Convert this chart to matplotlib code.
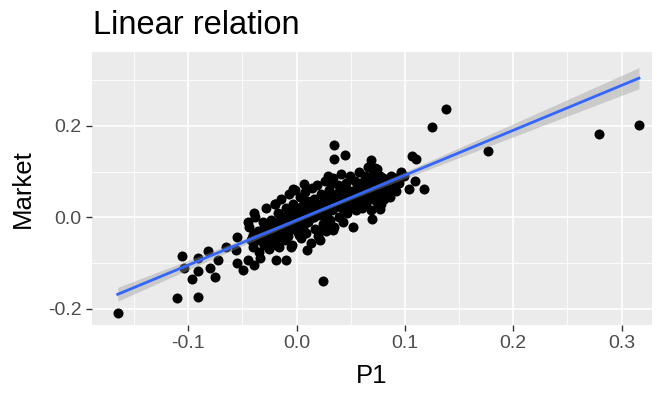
import numpy as np
import matplotlib
matplotlib.use("Agg")
import matplotlib.pyplot as plt

plt.rcParams['font.family'] = ['Liberation Sans', 'DejaVu Sans']

# ---- data ----
outer_x = [-0.165, -0.110, -0.091, -0.106, -0.104, -0.096, -0.091, -0.091, -0.080, -0.075,
           -0.082, -0.072, -0.065, -0.056, -0.055, -0.055, -0.049, -0.045, -0.039, -0.034,
           -0.045, -0.039, -0.019, -0.010, 0.024, 0.010, 0.022, 0.070, 0.077, 0.035,
           0.035, 0.045, 0.069, 0.072, 0.107, 0.110, 0.125, 0.138, 0.177, 0.279,
           0.316, 0.118, 0.104, 0.109, 0.092, 0.096, 0.099, 0.007, -0.003, -0.020,
           0.029, 0.032, 0.049, 0.062, 0.080, 0.082, 0.075, 0.034, 0.030, 0.022,
           0.002, -0.005, -0.019, -0.029, -0.035, -0.040]
outer_y = [-0.209, -0.177, -0.173, -0.085, -0.111, -0.135, -0.118, -0.089, -0.111, -0.131,
           -0.074, -0.093, -0.064, -0.071, -0.042, -0.100, -0.115, -0.093, -0.104, -0.089,
           -0.011, 0.009, -0.094, -0.094, -0.139, -0.071, -0.049, -0.004, 0.018, 0.158,
           0.128, 0.136, 0.125, 0.108, 0.135, 0.128, 0.198, 0.236, 0.145, 0.182,
           0.202, 0.062, 0.062, 0.079, 0.057, 0.099, 0.090, 0.072, 0.062, 0.030,
           0.090, 0.075, 0.086, 0.079, 0.061, 0.046, 0.024, -0.027, -0.012, -0.027,
           -0.038, -0.064, -0.060, -0.056, -0.049, -0.038]

cluster_x = [-0.044, -0.042, -0.040, -0.038, -0.036, -0.035, -0.033, -0.031, -0.030,
             -0.029, -0.028, -0.027, -0.025, -0.024, -0.022, -0.021, -0.020, -0.019, -0.018, -0.017, -0.016,
             -0.015, -0.014, -0.013, -0.012, -0.011, -0.010, -0.009, -0.008, -0.007, -0.006, -0.005, -0.004, -0.003, -0.002, -0.001,
             0.000, 0.001, 0.002, 0.003, 0.004, 0.005, 0.006, 0.007, 0.008, 0.009, 0.010, 0.011, 0.012, 0.013, 0.014,
             0.015, 0.016, 0.017, 0.018, 0.019, 0.020, 0.021, 0.022, 0.023, 0.024, 0.025, 0.026, 0.027, 0.028, 0.029,
             0.030, 0.031, 0.032, 0.033, 0.034, 0.035, 0.036, 0.037, 0.038, 0.039, 0.040, 0.041, 0.042, 0.043, 0.044,
             0.045, 0.046, 0.047, 0.048, 0.049, 0.050, 0.051, 0.052, 0.053, 0.054, 0.055, 0.056, 0.057, 0.058, 0.059,
             0.060, 0.061, 0.062, 0.063, 0.064, 0.065, 0.066, 0.067, 0.068, 0.069, 0.070, 0.071, 0.072, 0.073, 0.074,
             0.075, 0.076, 0.077, 0.078, 0.079, 0.080, 0.081, 0.082, 0.083, 0.085, 0.086, 0.088, 0.090, 0.092, 0.095]
cluster_y = [-0.020, -0.050, -0.065, 0.000, -0.030, -0.075, -0.045, -0.010, -0.060,
             -0.025, 0.020, -0.040, -0.070, -0.005, -0.030, -0.055, 0.030, -0.015, -0.045, 0.010, -0.065,
             -0.020, 0.040, -0.035, 0.000, -0.050, 0.020, -0.010, -0.040, 0.050, -0.025, 0.010, -0.060, 0.030, -0.015, 0.060,
             -0.030, 0.015, -0.005, 0.045, -0.045, 0.025, -0.020, 0.005, 0.055, -0.035, 0.035, -0.010, 0.020, -0.055, 0.065,
             0.000, 0.040, -0.025, 0.015, 0.070, -0.040, 0.030, 0.005, 0.050, -0.015, 0.025, 0.080, -0.030, 0.010, 0.045,
             0.060, -0.005, 0.035, 0.015, 0.085, -0.020, 0.050, 0.025, 0.070, 0.000, 0.040, 0.095, 0.020, -0.010, 0.060,
             0.030, 0.075, 0.010, 0.045, 0.090, 0.025, 0.055, -0.020, 0.040, 0.080, 0.015, 0.065, 0.035, 0.100, 0.050,
             0.020, 0.070, 0.045, 0.090, 0.030, 0.060, 0.110, 0.040, 0.080, 0.015, 0.055, 0.095, 0.065, 0.035, 0.105,
             0.075, 0.050, 0.090, 0.030, 0.065, 0.085, 0.040, 0.070, 0.055, 0.080, 0.045, 0.070, 0.060, 0.085, 0.075]

core_x = [-0.032, -0.026, -0.023, -0.018, -0.013, -0.009, -0.006, -0.002, 0.001, 0.004,
          0.007, 0.010, 0.013, 0.016, 0.019, 0.022, 0.025, 0.028, 0.031, 0.034,
          0.037, 0.040, 0.043, 0.046, 0.049, 0.052, 0.055, 0.058, 0.061, 0.064,
          0.067, 0.070, 0.073, 0.076, 0.079, -0.028, -0.020, -0.015, -0.004, 0.003,
          0.012, 0.018, 0.024, 0.033, 0.039, 0.047, 0.053, 0.060, 0.066, 0.072,
          -0.037, -0.034, -0.030, -0.027, -0.024, -0.021, -0.017, -0.014, -0.011, -0.008,
          -0.005, -0.001, 0.002, 0.005, 0.008, 0.011, 0.014, 0.017, 0.020, 0.023,
          0.026, 0.029, 0.032, 0.035, 0.038, 0.041, 0.044, 0.048, 0.051, 0.054,
          0.057, 0.063, 0.069, 0.075, 0.081, 0.084, 0.087, 0.091, -0.041, 0.000]
core_y = [-0.028, -0.040, -0.015, -0.030, -0.005, -0.025, 0.002, -0.018, 0.008, -0.012,
          0.015, -0.006, 0.022, 0.000, 0.028, 0.008, 0.035, 0.012, 0.040, 0.018,
          0.045, 0.026, 0.052, 0.030, 0.058, 0.036, 0.062, 0.042, 0.068, 0.048,
          0.074, 0.055, 0.080, 0.060, 0.086, -0.022, -0.012, -0.032, 0.004, -0.015,
          0.000, 0.024, 0.005, 0.040, 0.048, 0.060, 0.058, 0.075, 0.050, 0.088,
          -0.035, -0.045, -0.026, -0.018, -0.036, -0.020, -0.010, -0.026, -0.008, -0.018,
          -0.002, -0.012, 0.004, -0.006, 0.012, 0.002, 0.016, 0.006, 0.022, 0.014,
          0.026, 0.018, 0.033, 0.024, 0.040, 0.030, 0.044, 0.040, 0.052, 0.046,
          0.060, 0.064, 0.070, 0.068, 0.082, 0.075, 0.090, 0.082, -0.046, -0.008]

p1 = np.array(outer_x + cluster_x + core_x)
market = np.array(outer_y + cluster_y + core_y)

x_ticks = [-0.1, 0.0, 0.1, 0.2, 0.3]
x_labels = ["-0.1", "0.0", "0.1", "0.2", "0.3"]
y_ticks = [-0.2, 0.0, 0.2]
y_labels = ["-0.2", "0.0", "0.2"]

# ---- linear fit with 95% confidence band (like geom_smooth(method="lm")) ----
n = len(p1)
b1, b0 = np.polyfit(p1, market, 1)
resid = market - (b0 + b1 * p1)
s = np.sqrt(np.sum(resid ** 2) / (n - 2))
xbar = p1.mean()
sxx = np.sum((p1 - xbar) ** 2)
xs = np.linspace(p1.min(), p1.max(), 80)
ys = b0 + b1 * xs
se = s * np.sqrt(1.0 / n + (xs - xbar) ** 2 / sxx)
tval = 1.97

# ---- figure ----
fig = plt.figure(figsize=(6.57, 3.96), dpi=100)
ax = fig.add_axes([91.7 / 657, 1 - 325 / 396, (652 - 91.7) / 657, (325 - 52) / 396])
ax.set_facecolor('#EBEBEB')
for sp in ax.spines.values():
    sp.set_visible(False)

ax.set_xlim(-0.189, 0.328)
ax.set_ylim(-0.235, 0.361)

# grid
for v in [-0.15, -0.05, 0.05, 0.15, 0.25]:
    ax.axvline(v, color='white', lw=0.6, zorder=0.5)
for v in [-0.1, 0.1, 0.3]:
    ax.axhline(v, color='white', lw=0.6, zorder=0.5)
for v in x_ticks:
    ax.axvline(v, color='white', lw=1.2, zorder=0.6)
for v in y_ticks:
    ax.axhline(v, color='white', lw=1.2, zorder=0.6)

ax.scatter(p1, market, s=52, color='black', linewidths=0, zorder=2)
ax.fill_between(xs, ys - tval * se, ys + tval * se, color='#999999', alpha=0.4,
                linewidth=0, zorder=3)
ax.plot(xs, ys, color='#3366FF', lw=2.0, zorder=4)

ax.set_xticks(x_ticks)
ax.set_xticklabels(x_labels)
ax.set_yticks(y_ticks)
ax.set_yticklabels(y_labels)
ax.tick_params(axis='both', colors='#333333', labelcolor='#4D4D4D', labelsize=14,
               length=4.5, width=1.0, pad=3)

ax.set_xlabel('P1', fontsize=18.5, color='black', labelpad=8)
ax.set_ylabel('Market', fontsize=18.5, color='black', labelpad=9)
fig.text(93 / 657, 1 - 34 / 396, 'Linear relation', fontsize=23.5, color='black',
         ha='left', va='baseline')

fig.savefig('out.png', dpi=100)
